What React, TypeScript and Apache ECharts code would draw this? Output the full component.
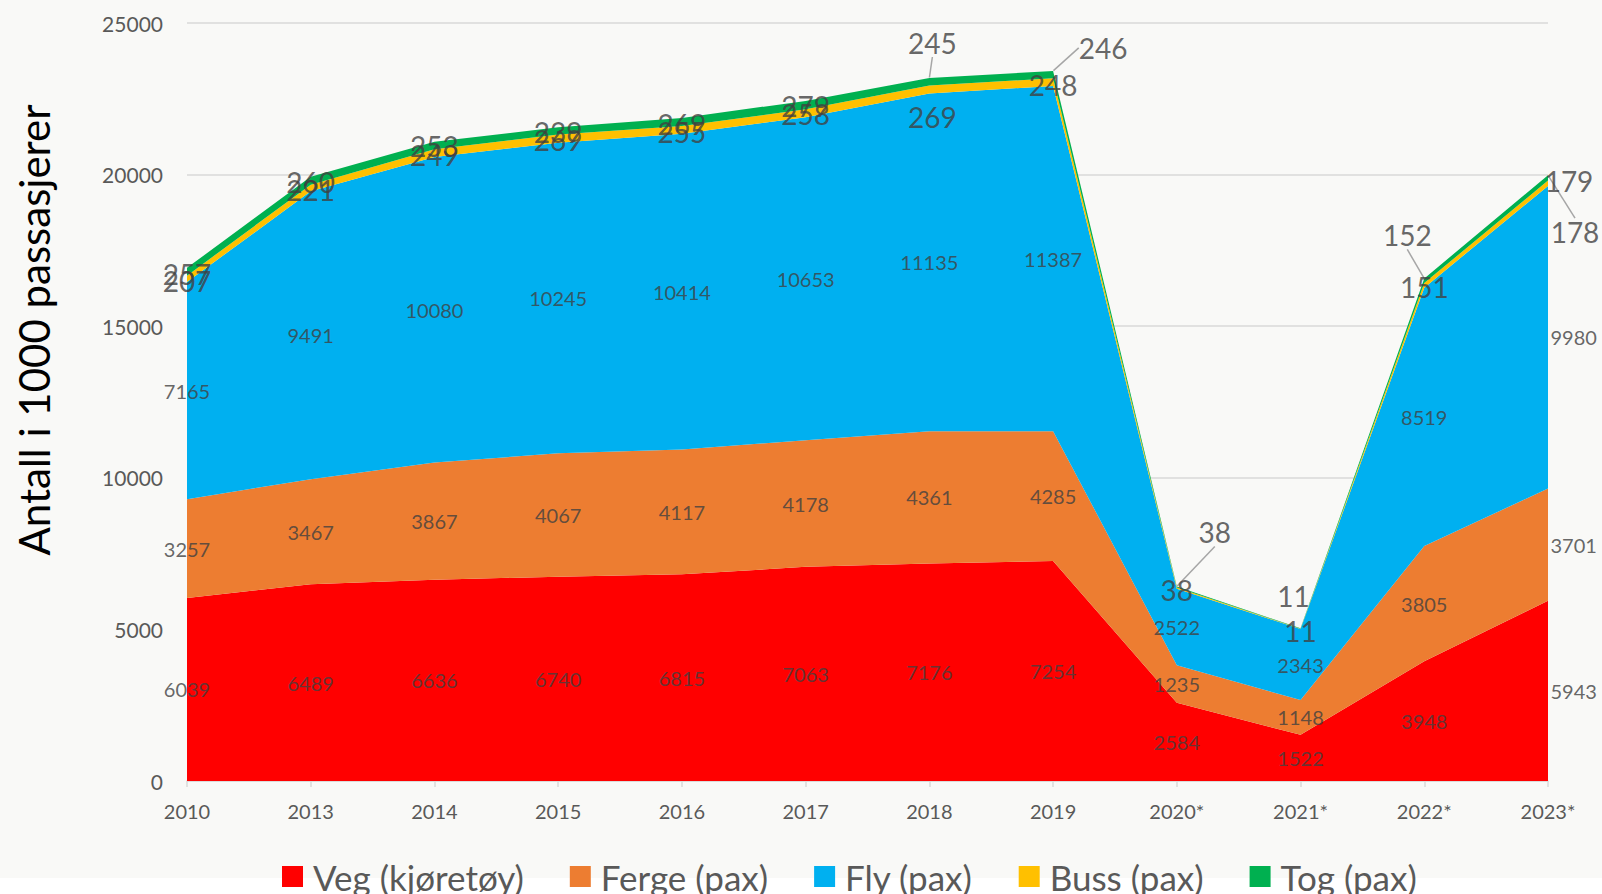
import React, { useEffect, useRef } from "react";
import * as echarts from "echarts";

const CATEGORIES = ["2010", "2013", "2014", "2015", "2016", "2017", "2018", "2019", "2020*", "2021*", "2022*", "2023*"];
const VEG = [6039, 6489, 6636, 6740, 6815, 7063, 7176, 7254, 2584, 1522, 3948, 5943];
const FERGE = [3257, 3467, 3867, 4067, 4117, 4178, 4361, 4285, 1235, 1148, 3805, 3701];
const FLY = [7165, 9491, 10080, 10245, 10414, 10653, 11135, 11387, 2522, 2343, 8519, 9980];
const BUSS = [207, 221, 249, 269, 255, 258, 269, 248, 38, 11, 151, 179];
const TOG = [257, 260, 253, 239, 269, 279, 245, 246, 38, 11, 152, 178];

const SERIES_NAMES = ["Veg (kjøretøy)", "Ferge (pax)", "Fly (pax)", "Buss (pax)", "Tog (pax)"];
const SERIES_COLORS = ["#ff0000", "#ed7d31", "#00b0f0", "#ffc000", "#00b050"];
const Y_TICKS = { min: 0, max: 25000, interval: 5000 };
const Y_NAME = "Antall i 1000 passasjerer";

// label placement tweaks (pixels), styling only
const BUSS_DX = [0, 0, 0, 0, 0, 0, 3, 0, 0, 0, 0, 21];
const BUSS_DY = [5, 5, 6, 5, 6, 5, 32, 7, 2, 2, 4, 0];
const TOG_DX = [0, 0, 0, 0, 0, 0, 3, 50, 38, -7, -17, 27];
const TOG_DY = [6, 5, 4, 5, 6, 5, -35, -23, -54, -32, -43, 57];
const TOG_LEADER = [false, false, false, false, false, false, true, true, true, false, true, true];

const FONT = "Lato, 'Open Sans', sans-serif";

export default function App() {
  const ref = useRef<HTMLDivElement>(null);

  useEffect(() => {
    document.body.style.margin = "0";
    if (!ref.current) return;
    const chart = echarts.init(ref.current, null, { renderer: "svg" });

    const bands = [VEG, FERGE, FLY, BUSS, TOG];
    const cumBelow: number[][] = [];
    bands.forEach((arr, i) => {
      cumBelow.push(arr.map((_, j) => (i === 0 ? 0 : cumBelow[i - 1][j] + bands[i - 1][j])));
    });

    const areaSeries = bands.map((arr, i) => ({
      name: SERIES_NAMES[i],
      type: "line",
      stack: "total",
      data: arr,
      symbol: "none",
      showSymbol: false,
      lineStyle: { width: 0, color: SERIES_COLORS[i] },
      itemStyle: { color: SERIES_COLORS[i] },
      areaStyle: { color: SERIES_COLORS[i], opacity: 1 },
      emphasis: { disabled: true },
      z: 2,
    }));

    const midLabelSeries = [0, 1, 2].map((i) => ({
      type: "scatter",
      silent: true,
      symbolSize: 1,
      itemStyle: { color: "transparent" },
      z: 5,
      data: bands[i].map((v, j) => ({
        value: [j, cumBelow[i][j] + v / 2],
        label:
          j === bands[i].length - 1
            ? { position: "right", distance: 2 }
            : undefined,
      })),
      label: {
        show: true,
        position: "inside",
        fontSize: 20,
        fontFamily: FONT,
        color: "#404040",
        formatter: (p: any) => String(bands[i][p.dataIndex]),
      },
    }));

    const topLabelSeries = [3, 4].map((i) => {
      const dx = i === 3 ? BUSS_DX : TOG_DX;
      const dy = i === 3 ? BUSS_DY : TOG_DY;
      return {
        type: "scatter",
        silent: true,
        symbolSize: 1,
        itemStyle: { color: "transparent" },
        z: 6,
        data: bands[i].map((v, j) => ({
          value: [j, cumBelow[i][j] + v],
          labelLine: { show: i === 4 && TOG_LEADER[j] },
        })),
        label: {
          show: true,
          position: "inside",
          fontSize: 28,
          fontFamily: FONT,
          color: "#404040",
          formatter: (p: any) => String(bands[i][p.dataIndex]),
        },
        labelLine: {
          show: false,
          lineStyle: { color: "#a6a6a6", width: 1.5 },
        },
        labelLayout: (p: any) => ({ dx: dx[p.dataIndex], dy: dy[p.dataIndex] }),
      };
    });

    chart.setOption({
      animation: false,
      backgroundColor: "transparent",
      textStyle: { fontFamily: FONT },
      grid: { left: 187, right: 54, top: 23, bottom: 113, containLabel: false },
      xAxis: {
        type: "category",
        data: CATEGORIES,
        boundaryGap: false,
        axisLine: { show: true, lineStyle: { color: "#d9d9d9", width: 1.5 } },
        axisTick: { show: true, length: 6, lineStyle: { color: "#d9d9d9", width: 1.5 } },
        axisLabel: { fontSize: 20, color: "#595959", fontFamily: FONT, margin: 20 },
        splitLine: { show: false },
      },
      yAxis: {
        type: "value",
        min: Y_TICKS.min,
        max: Y_TICKS.max,
        interval: Y_TICKS.interval,
        axisLine: { show: false },
        axisTick: { show: false },
        axisLabel: {
          fontSize: 21,
          color: "#595959",
          fontFamily: FONT,
          margin: 24,
          formatter: (v: number) => String(v),
        },
        splitLine: { lineStyle: { color: "#d9d9d9", width: 1.5 } },
      },
      legend: {
        data: SERIES_NAMES,
        left: 282,
        top: 859,
        padding: 0,
        icon: "rect",
        itemWidth: 21,
        itemHeight: 21,
        itemGap: 46,
        textStyle: { fontSize: 35, color: "#595959", fontFamily: FONT, padding: [0, 0, 0, 5] },
      },
      graphic: [
        {
          type: "text",
          x: 34,
          y: 330,
          rotation: Math.PI / 2,
          style: {
            text: Y_NAME,
            fontSize: 42,
            fontFamily: FONT,
            fill: "#000000",
            textAlign: "center",
            textVerticalAlign: "middle",
            align: "center",
            verticalAlign: "middle",
          },
        },
      ],
      series: [...areaSeries, ...midLabelSeries, ...topLabelSeries],
    });

    return () => chart.dispose();
  }, []);

  return (
    <div
      style={{
        position: "absolute",
        left: 0,
        top: 0,
        width: 1602,
        height: 894,
        background: "linear-gradient(to bottom, #f9f9f7 0px, #f9f9f7 878px, #ffffff 878px, #ffffff 894px)",
      }}
    >
      <div ref={ref} style={{ width: 1602, height: 894 }} />
    </div>
  );
}
